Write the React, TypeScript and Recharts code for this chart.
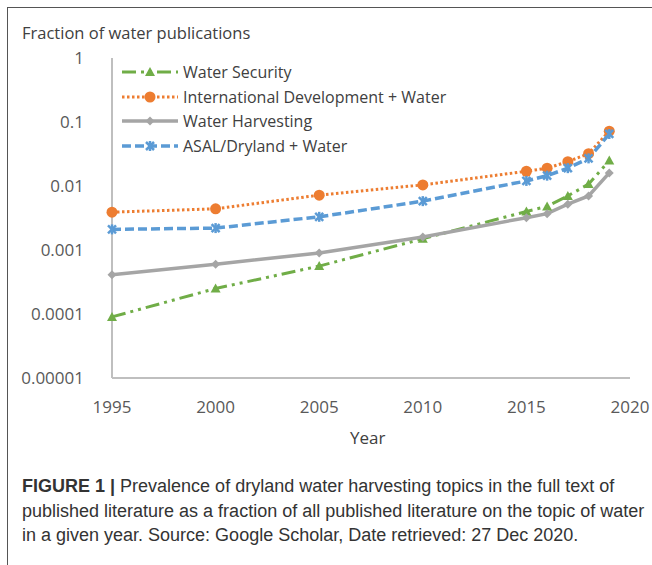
import { Line, LineChart, XAxis, YAxis } from "recharts";

const years = [1995, 2000, 2005, 2010, 2015, 2016, 2017, 2018, 2019];
const waterSecurity = [0.00009, 0.00025, 0.00056, 0.0015, 0.004, 0.0048, 0.007, 0.0107, 0.025];
const intlDevelopment = [0.0039, 0.0044, 0.0072, 0.0104, 0.017, 0.019, 0.024, 0.032, 0.072];
const waterHarvesting = [0.00041, 0.0006, 0.0009, 0.0016, 0.0032, 0.0037, 0.0052, 0.007, 0.016];
const asalDryland = [0.0021, 0.0022, 0.0033, 0.0058, 0.012, 0.0145, 0.019, 0.027, 0.065];

const xTicks = [1995, 2000, 2005, 2010, 2015, 2020];
const yTicks = [0.00001, 0.0001, 0.001, 0.01, 0.1, 1];
const yTickLabels = ["0.00001", "0.0001", "0.001", "0.01", "0.1", "1"];

const data = years.map((year, i) => ({
  year,
  security: waterSecurity[i],
  intl: intlDevelopment[i],
  harvesting: waterHarvesting[i],
  asal: asalDryland[i],
}));

const FONT = "'Open Sans', sans-serif";
const GREEN = "#70AD47";
const ORANGE = "#ED7D31";
const GRAY = "#A5A5A5";
const BLUE = "#5B9BD5";

type Marker = "triangle" | "circle" | "diamond" | "star";

const markerShape = (kind: Marker, cx: number, cy: number, color: string, key?: string) => {
  if (kind === "triangle") {
    return <path key={key} d={`M${cx},${cy - 5} L${cx + 5},${cy + 4} L${cx - 5},${cy + 4} Z`} fill={color} />;
  }
  if (kind === "circle") return <circle key={key} cx={cx} cy={cy} r={5.5} fill={color} />;
  if (kind === "diamond") {
    return <path key={key} d={`M${cx},${cy - 4.5} L${cx + 4.5},${cy} L${cx},${cy + 4.5} L${cx - 4.5},${cy} Z`} fill={color} />;
  }
  return (
    <g key={key} stroke={color} strokeWidth={2.5}>
      <line x1={cx - 4} y1={cy - 4} x2={cx + 4} y2={cy + 4} />
      <line x1={cx - 4} y1={cy + 4} x2={cx + 4} y2={cy - 4} />
      <line x1={cx} y1={cy - 5} x2={cx} y2={cy + 5} />
    </g>
  );
};

const makeDot = (kind: Marker, color: string) => (props: any) => {
  const { cx, cy, index } = props;
  if (cx == null || cy == null) return <g key={`n${index}`} />;
  return markerShape(kind, cx, cy, color, `d${index}`);
};

const series = [
  { name: "Water Security", color: GREEN, dash: "14 5 3 5 3 5", width: 3, marker: "triangle" as Marker },
  { name: "International Development + Water", color: ORANGE, dash: "2.5 2.5", width: 3, marker: "circle" as Marker },
  { name: "Water Harvesting", color: GRAY, dash: undefined, width: 3.5, marker: "diamond" as Marker },
  { name: "ASAL/Dryland + Water", color: BLUE, dash: "9 4", width: 3.5, marker: "star" as Marker },
];

const LegendBox = () => (
  <div style={{ fontFamily: FONT, fontSize: 16, color: "#404040" }}>
    {series.map((s) => (
      <div key={s.name} style={{ display: "flex", alignItems: "center", height: 24.5 }}>
        <svg width={60} height={16} style={{ marginRight: 3 }}>
          <line x1={2} y1={8} x2={58} y2={8} stroke={s.color} strokeWidth={s.width} strokeDasharray={s.dash} />
          {markerShape(s.marker, 30, 8, s.color)}
        </svg>
        <span>{s.name}</span>
      </div>
    ))}
  </div>
);

export default function App() {
  return (
    <div style={{ position: "absolute", left: 0, top: 0, width: 652, height: 565, background: "#fff", overflow: "hidden" }}>
      <div style={{ position: "absolute", left: 7, top: 7, width: 660, height: 570, borderLeft: "1.5px solid #555", borderTop: "1.5px solid #555" }} />
      <div style={{ position: "absolute", left: 22, top: 21, fontFamily: FONT, fontSize: 16.5, color: "#404040", whiteSpace: "nowrap" }}>
        Fraction of water publications
      </div>
      <div style={{ position: "absolute", top: 0, left: 0 }}>
        <LineChart width={652} height={460} data={data} margin={{ top: 58, right: 22, left: 0, bottom: 22 }}>
          <XAxis
            type="number"
            dataKey="year"
            domain={[1995, 2020]}
            ticks={xTicks}
            tickLine={false}
            tickSize={0}
            tickMargin={23}
            height={60}
            stroke="#BFBFBF"
            strokeWidth={2}
            tick={{ fill: "#595959", fontSize: 17, fontFamily: FONT }}
          />
          <YAxis
            scale="log"
            domain={[0.00001, 1]}
            ticks={yTicks}
            allowDataOverflow
            tickFormatter={(v: number) => yTickLabels[yTicks.indexOf(v)] ?? String(v)}
            tickLine={false}
            tickSize={0}
            tickMargin={28}
            width={112}
            stroke="#BFBFBF"
            strokeWidth={2}
            tick={{ fill: "#595959", fontSize: 17, fontFamily: FONT }}
          />
          <Line dataKey="security" name={series[0].name} stroke={GREEN} strokeWidth={3} strokeDasharray={series[0].dash} dot={makeDot("triangle", GREEN)} activeDot={false} isAnimationActive={false} />
          <Line dataKey="intl" name={series[1].name} stroke={ORANGE} strokeWidth={3} strokeDasharray={series[1].dash} dot={makeDot("circle", ORANGE)} activeDot={false} isAnimationActive={false} />
          <Line dataKey="harvesting" name={series[2].name} stroke={GRAY} strokeWidth={3.5} dot={makeDot("diamond", GRAY)} activeDot={false} isAnimationActive={false} />
          <Line dataKey="asal" name={series[3].name} stroke={BLUE} strokeWidth={3.5} strokeDasharray={series[3].dash} dot={makeDot("star", BLUE)} activeDot={false} isAnimationActive={false} />
        </LineChart>
      </div>
      <div style={{ position: "absolute", left: 120, top: 60 }}>
        <LegendBox />
      </div>
      <div style={{ position: "absolute", left: 350, top: 426, fontFamily: FONT, fontSize: 17, color: "#404040" }}>Year</div>
      <div
        style={{
          position: "absolute",
          left: 22,
          top: 474,
          fontFamily: "'Liberation Sans', Arial, sans-serif",
          fontSize: 18,
          lineHeight: "24.5px",
          color: "#333",
          whiteSpace: "nowrap",
        }}
      >
        <b>FIGURE 1 |</b> Prevalence of dryland water harvesting topics in the full text of
        <br />
        published literature as a fraction of all published literature on the topic of water
        <br />
        in a given year. Source: Google Scholar, Date retrieved: 27 Dec 2020.
      </div>
    </div>
  );
}
